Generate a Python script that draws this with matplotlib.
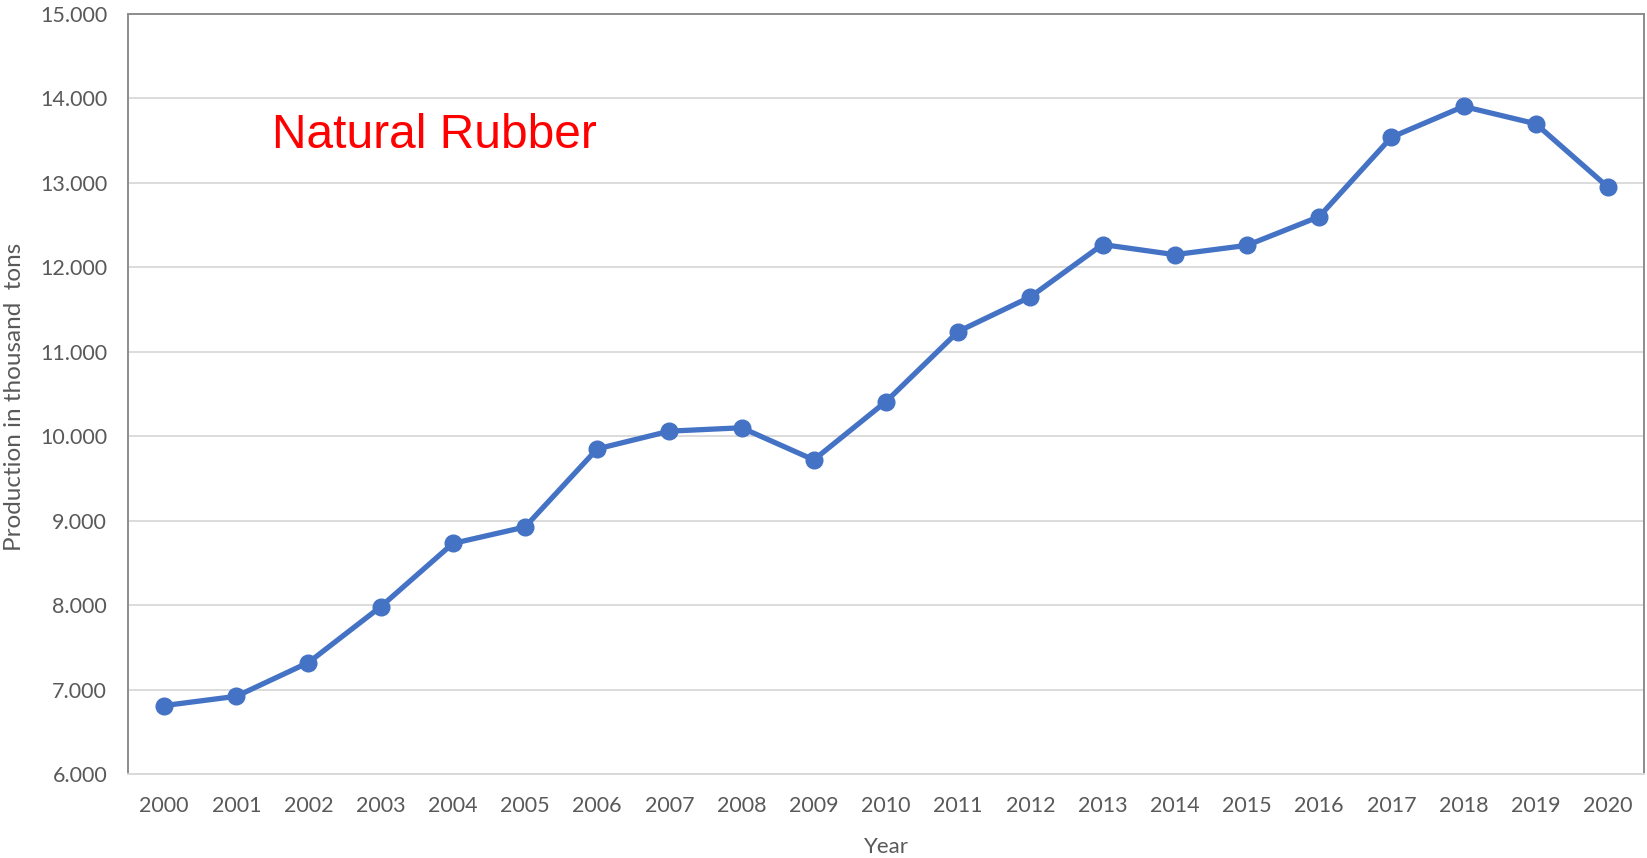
import numpy as np
import matplotlib
matplotlib.use('Agg')
from matplotlib import pyplot as plt
from matplotlib.ticker import FuncFormatter

# Produção anual de borracha natural (mil toneladas)
years = [str(y) for y in range(2000, 2021)]
production = [6810, 6920, 7320, 7980, 8730, 8925, 9850, 10060, 10100, 9720,
              10410, 11240, 11650, 12270, 12150, 12260, 12600, 13540, 13905,
              13700, 12950]

plt.rcParams['font.family'] = ['Lato', 'DejaVu Sans']

fig = plt.figure(figsize=(16.47, 8.58), dpi=100)
ax = fig.add_axes([0.0777, 0.0979, 0.9205, 0.8858])

x = np.arange(len(years))
ax.plot(x, production, color='#4472C4', linewidth=3.8, marker='o',
        markersize=12, solid_capstyle='round', zorder=3)

ax.set_xlim(-0.5, len(years) - 0.5)
ax.set_ylim(6000, 15000)
ax.set_yticks(np.arange(6000, 15001, 1000))
ax.yaxis.set_major_formatter(FuncFormatter(lambda v, p: f'{v / 1000:.3f}'))
ax.set_xticks(x, years)

ax.grid(axis='y', color='#d9d9d9', linewidth=1.3)
ax.set_axisbelow(True)
ax.tick_params(length=0, labelsize=15.5, labelcolor='#595959')
ax.tick_params(axis='y', pad=15)
ax.tick_params(axis='x', pad=16)

for side in ['left', 'top', 'right']:
    ax.spines[side].set_color('#8c8c8c')
    ax.spines[side].set_linewidth(1.4)
ax.spines['bottom'].set_color('#d9d9d9')
ax.spines['bottom'].set_linewidth(1.4)

ax.set_ylabel('Production in thousand  tons', fontsize=17.5, color='#595959')
ax.yaxis.set_label_coords(-0.068, 0.496)
ax.set_xlabel('Year', fontsize=16, color='#595959', labelpad=15)

ax.text(0.095, 0.840, 'Natural Rubber', transform=ax.transAxes, color='#ff0000',
        fontsize=34.5, family='Liberation Sans', va='center', ha='left')

plt.savefig('out.png', dpi=100)
